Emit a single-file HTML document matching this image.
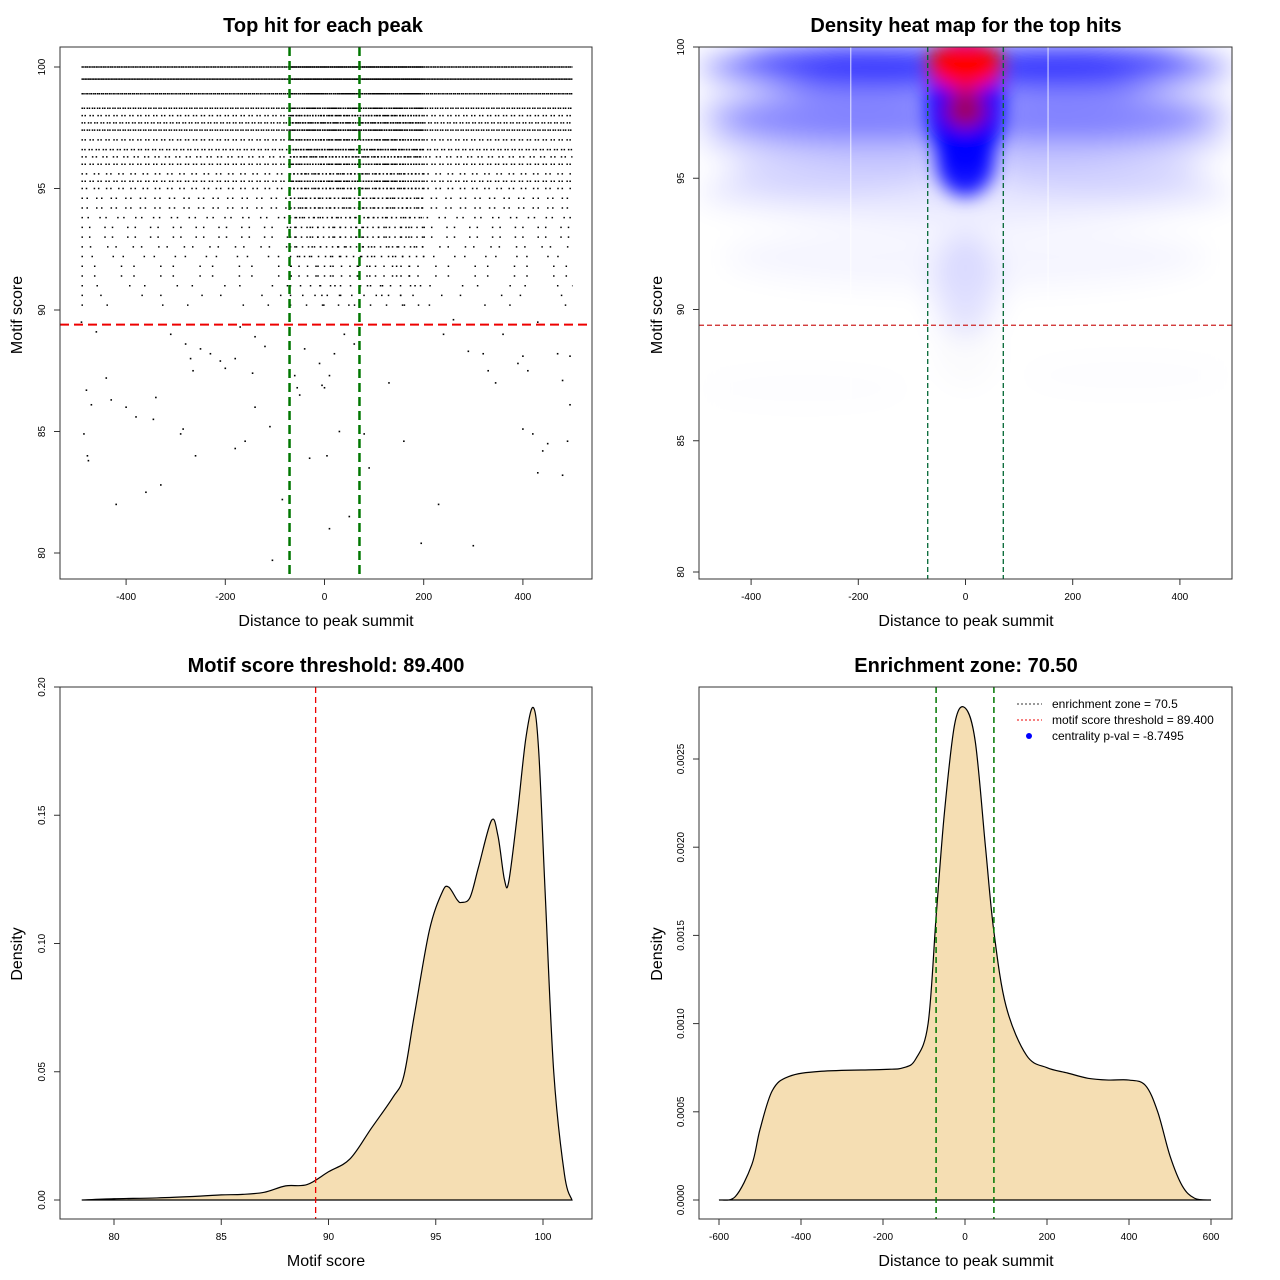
<!DOCTYPE html>
<html><head><meta charset="utf-8"><style>
body{margin:0;background:#fff}
svg{display:block;font-family:"Liberation Sans",sans-serif}
</style></head><body>
<svg id="s" width="1280" height="1280" viewBox="0 0 1280 1280">
<defs>
<filter id="blur" x="-20%" y="-20%" width="140%" height="140%"><feGaussianBlur stdDeviation="14"/></filter>
<filter id="blur2" x="-50%" y="-50%" width="200%" height="200%"><feGaussianBlur stdDeviation="9"/></filter>
<clipPath id="clip2"><rect x="699" y="47" width="533" height="532"/></clipPath>
</defs>
</svg>
<script>
// ---------- data ----------
const scatterRowScores = [100,99.5,98.9,98.3,98.0,97.7,97.4,97.0,96.6,96.3,96.0,95.6,95.3,95.0,94.6,94.2,93.8,93.4,93.0,92.6,92.2,91.8,91.4,91.0,90.6,90.2];
const scatterRowDensity = [0.9,0.95,0.85,0.7,0.5,0.6,0.7,0.5,0.55,0.4,0.5,0.35,0.5,0.35,0.3,0.3,0.25,0.2,0.2,0.18,0.15,0.12,0.12,0.1,0.08,0.06];
const sparseX = [-480,-470,-485,-478,-476,-440,-430,-420,-400,-380,-360,-345,-340,-330,-290,-285,-280,-270,-265,-260,-230,-210,-200,-180,-170,-160,-145,-140,-120,-110,-105,-85,-60,-55,-50,-40,-30,-10,-5,0,5,10,10,20,30,40,50,60,80,90,130,160,195,230,300,320,330,345,360,390,400,410,400,420,430,440,450,470,480,480,490,495,495,-490,-460,-310,-180,-140,-250,240,290,260,430];
const sparseY = [86.7,86.1,84.9,84.0,83.8,87.2,86.3,82.0,86.0,85.6,82.5,85.5,86.4,82.8,84.9,85.1,88.6,88.0,87.5,84.0,88.2,87.9,87.6,84.3,89.3,84.6,87.4,86.0,88.5,85.2,79.7,82.2,87.3,86.8,86.5,88.4,83.9,87.8,86.9,86.8,84.0,87.3,81.0,88.2,85.0,89.0,81.5,88.6,84.9,83.5,87.0,84.6,80.4,82.0,80.3,88.2,87.5,87.0,89.0,87.8,88.1,87.5,85.1,84.9,83.3,84.2,84.5,88.2,87.1,83.2,84.6,86.1,88.1,89.5,89.1,89.0,88.0,88.9,88.4,89.0,88.3,89.6,89.5];
const threshold = 89.4;
const zone = 70.5;
const heatX = [0,0,0,0,0,0,-250,250,-250,250,-250,250,0,300,-300];
const heatY = [99.2,97.5,96.5,94.5,92,91,99.3,99.3,97.3,97.3,95.3,95.3,88.5,87.5,87];
const heatRX = [500,500,500,500,450,60,200,200,200,200,200,200,60,200,200];
const heatRY = [0.9,1.1,0.9,1.1,1.2,2,0.9,0.9,0.9,0.9,0.8,0.8,1.5,0.8,0.8];
const heatColor = ['#00f','#22f','#44f','#88f','#ccf','#aaf','#00f','#00f','#33f','#33f','#66f','#66f','#dde','#eef','#eef'];
const heatOpacity = [0.7,0.4,0.3,0.2,0.2,0.35,0.35,0.35,0.25,0.25,0.2,0.2,0.12,0.12,0.12];
const coreX = [0,0,0,0,0];
const coreY = [97.8,95.6,99.3,97.6,99.45];
const coreRX = [72,55,70,38,45];
const coreRY = [2.6,1.3,0.95,0.7,0.6];
const coreColor = ['#0000ff','#0000ff','#ff0000','#b0004f','#ff0000'];
const coreOpacity = [1,0.9,1,0.9,1];
const scoreX = [78.5,80,82,84,85,86,87,88,89,90,91,92,93,93.5,94,94.7,95.3,95.6,96,96.2,96.6,97,97.6,97.9,98.2,98.4,98.8,99.2,99.55,99.8,100.1,100.5,101,101.35];
const scoreY = [0,0.0005,0.0008,0.0015,0.002,0.0022,0.003,0.0055,0.006,0.011,0.016,0.028,0.04,0.048,0.072,0.105,0.12,0.122,0.117,0.116,0.118,0.13,0.148,0.142,0.125,0.124,0.15,0.18,0.192,0.175,0.12,0.05,0.01,0];
const distX = [-600,-560,-520,-500,-470,-430,-350,-200,-150,-120,-90,-70,-50,-25,0,25,50,70,100,150,200,250,300,350,400,440,470,500,530,560,600];
const distY = [0,0.00002,0.0002,0.0004,0.00062,0.0007,0.00073,0.00074,0.00075,0.0008,0.001,0.00162,0.0022,0.0027,0.00279,0.0026,0.002,0.00153,0.0011,0.00082,0.00075,0.00072,0.00069,0.00068,0.00068,0.00065,0.0005,0.00025,0.00008,0.00001,0];

// ---------- helpers ----------
const S = document.getElementById('s');
const NS = 'http://www.w3.org/2000/svg';
function mk(tag, attrs, parent){const e=document.createElementNS(NS,tag);for(const k in attrs)e.setAttribute(k,attrs[k]);(parent||S).appendChild(e);return e;}
function txt(x,y,t,size,opt){const e=mk('text',Object.assign({x:x,y:y,'font-size':size,'text-anchor':'middle',fill:'#000'},opt||{}));e.textContent=t;return e;}
function smooth(pts){let d='M'+pts[0][0]+','+pts[0][1];for(let i=0;i<pts.length-1;i++){const p0=pts[i-1]||pts[i],p1=pts[i],p2=pts[i+1],p3=pts[i+2]||p2;const c1x=p1[0]+(p2[0]-p0[0])/6,c1y=p1[1]+(p2[1]-p0[1])/6,c2x=p2[0]-(p3[0]-p1[0])/6,c2y=p2[1]-(p3[1]-p1[1])/6;d+=' C'+c1x+','+c1y+' '+c2x+','+c2y+' '+p2[0]+','+p2[1];}return d;}
function box(x,y,w,h,name){const r=mk('rect',{x:x,y:y,width:w,height:h,fill:'none',stroke:'#333','stroke-width':1});

}
function xTicks(vals,fx,yBase,name){const g=mk('g',{});


vals.forEach(v=>{mk('line',{x1:fx(v),x2:fx(v),y1:yBase,y2:yBase+6,stroke:'#333'},g);const t=txt(fx(v),yBase+21,String(v),10);g.appendChild(t);});}
function yTicks(vals,fy,xBase,name,fmt){const g=mk('g',{});


vals.forEach(v=>{mk('line',{x1:xBase-6,x2:xBase,y1:fy(v),y2:fy(v),stroke:'#333'},g);const t=txt(0,0,fmt?fmt(v):String(v),10,{transform:'translate('+(xBase-15)+','+fy(v)+') rotate(-90)'});g.appendChild(t);});}
function title(x,y,t,name){const e=txt(x,y,t,20,{'font-weight':'bold'});

}
function axLabel(x,y,t,name,rot){const e=txt(x,y,t,16,rot?{transform:'rotate(-90 '+x+' '+y+')'}:{});

}

// ---------- panel 1: scatter ----------
const p1x=v=>324.5+v*0.496, p1y=v=>67+(100-v)*24.3;
const g1=mk('g',{});


scatterRowScores.forEach((sc,i)=>{const d=scatterRowDensity[i];const gap=1.5*(1/d-1);
const l=mk('line',{x1:p1x(-490),x2:p1x(500),y1:p1y(sc),y2:p1y(sc),stroke:'#000','stroke-width':1.5,'stroke-dasharray':'1.5 '+gap.toFixed(2)+' 1.5 '+(gap*2.3).toFixed(2)},g1);

const c=mk('line',{x1:p1x(-70),x2:p1x(200),y1:p1y(sc),y2:p1y(sc),stroke:'#000','stroke-width':1.5,'stroke-dasharray':'1.5 '+(gap*0.6+0.4).toFixed(2)},g1);
});
sparseX.forEach((x,i)=>{const r=mk('rect',{x:p1x(x)-0.8,y:p1y(sparseY[i])-0.8,width:1.6,height:1.6,fill:'#000'},g1);
});
let l1=mk('line',{x1:60,x2:592,y1:p1y(threshold),y2:p1y(threshold),stroke:'#e00','stroke-width':2,'stroke-dasharray':'9 5'});

[-zone,zone].forEach(z=>{const l=mk('line',{x1:p1x(z),x2:p1x(z),y1:47,y2:579,stroke:'#070','stroke-width':2.5,'stroke-dasharray':'9 5'});
});
box(60,47,532,532,'scatter-plot-area');
xTicks([-400,-200,0,200,400],p1x,579,'scatter-x-ticks');
yTicks([80,85,90,95,100],p1y,60,'scatter-y-ticks');
title(323,32,'Top hit for each peak','scatter-title');
axLabel(326,626,'Distance to peak summit','scatter-x-title');
axLabel(22,315,'Motif score','scatter-y-title',true);

// ---------- panel 2: heatmap ----------
const p2x=v=>965.5+v*0.536, p2y=v=>47+(100-v)*26.25;
const g2c=mk('g',{'clip-path':'url(#clip2)'});


const g2=mk('g',{filter:'url(#blur)'},g2c);
mk('rect',{x:699,y:47,width:533,height:532,fill:'#fff'},g2);
heatX.forEach((x,i)=>{const e=mk('ellipse',{cx:p2x(x),cy:p2y(heatY[i]),rx:heatRX[i]*0.536,ry:heatRY[i]*26.25,fill:heatColor[i],opacity:heatOpacity[i]},g2);
});
const g2b=mk('g',{filter:'url(#blur2)'},g2c);
coreX.forEach((x,i)=>{const e=mk('ellipse',{cx:p2x(x),cy:p2y(coreY[i]),rx:coreRX[i]*0.536,ry:coreRY[i]*26.25,fill:coreColor[i],opacity:coreOpacity[i]},g2b);
});
[-214,154].forEach(v=>{const l=mk('line',{x1:p2x(v),x2:p2x(v),y1:47,y2:579,stroke:'#fff','stroke-width':1,opacity:0.8},g2c);
});
let l2=mk('line',{x1:699,x2:1232,y1:p2y(threshold),y2:p2y(threshold),stroke:'#c22','stroke-width':1.2,'stroke-dasharray':'5 3'});

[-zone,zone].forEach(z=>{const l=mk('line',{x1:p2x(z),x2:p2x(z),y1:47,y2:579,stroke:'#063','stroke-width':1.3,'stroke-dasharray':'5 3'});
});
box(699,47,533,532,'heatmap-plot-area');
xTicks([-400,-200,0,200,400],p2x,579,'heatmap-x-ticks');
yTicks([80,85,90,95,100],p2y,699,'heatmap-y-ticks');
title(966,32,'Density heat map for the top hits','heatmap-title');
axLabel(966,626,'Distance to peak summit','heatmap-x-title');
axLabel(662,315,'Motif score','heatmap-y-title',true);

// ---------- panel 3: score density ----------
const p3x=v=>114+(v-80)*21.45, p3y=v=>1200-v*2565;
let pts3=scoreX.map((x,i)=>[p3x(x),p3y(scoreY[i])]);
let a3=mk('path',{d:smooth(pts3)+' Z',fill:'#f5deb3',stroke:'#000','stroke-width':1.2});


let b3=mk('line',{x1:p3x(78.5),x2:p3x(101.35),y1:1200,y2:1200,stroke:'#000'});

let l3=mk('line',{x1:p3x(threshold),x2:p3x(threshold),y1:687,y2:1219,stroke:'#e00','stroke-width':1.3,'stroke-dasharray':'6 4'});

box(60,687,532,532,'score-density-plot-area');
xTicks([80,85,90,95,100],p3x,1219,'score-x-ticks');
yTicks([0,0.05,0.1,0.15,0.2],p3y,60,'density-y-ticks',v=>v.toFixed(2));
title(326,672,'Motif score threshold: 89.400','score-density-title');
axLabel(326,1266,'Motif score','score-x-title');
axLabel(22,954,'Density','score-y-title',true);

// ---------- panel 4: distance density ----------
const p4x=v=>965+v*0.41, p4y=v=>1200-v*176400;
let pts4=distX.map((x,i)=>[p4x(x),p4y(distY[i])]);
let a4=mk('path',{d:smooth(pts4)+' Z',fill:'#f5deb3',stroke:'#000','stroke-width':1.2});


let b4=mk('line',{x1:p4x(-600),x2:p4x(600),y1:1200,y2:1200,stroke:'#000'});

[-zone,zone].forEach(z=>{const l=mk('line',{x1:p4x(z),x2:p4x(z),y1:687,y2:1219,stroke:'#070','stroke-width':1.5,'stroke-dasharray':'6 4'});
});
box(699,687,533,532,'distance-density-plot-area');
xTicks([-600,-400,-200,0,200,400,600],p4x,1219,'distance-x-ticks');
yTicks([0,0.0005,0.001,0.0015,0.002,0.0025],p4y,699,'distance-y-ticks',v=>v.toFixed(4));
title(966,672,'Enrichment zone: 70.50','distance-density-title');
axLabel(966,1266,'Distance to peak summit','distance-x-title');
axLabel(662,954,'Density','distance-y-title',true);
// legend
const lg=mk('g',{});


const legText=['enrichment zone = 70.5','motif score threshold = 89.400','centrality p-val = -8.7495'];
const legCol=['#333','#e00','#00f'];
legText.forEach((t,i)=>{const y=703+i*16;
if(i<2){mk('line',{x1:1017,x2:1042,y1:y+1,y2:y+1,stroke:legCol[i],'stroke-dasharray':'2 2'},lg);}
else{mk('circle',{cx:1029,cy:y+1,r:3,fill:legCol[i]},lg);}
const e=txt(1052,y+5,t,12,{'text-anchor':'start'});lg.appendChild(e);

});
</script>
</body></html>
